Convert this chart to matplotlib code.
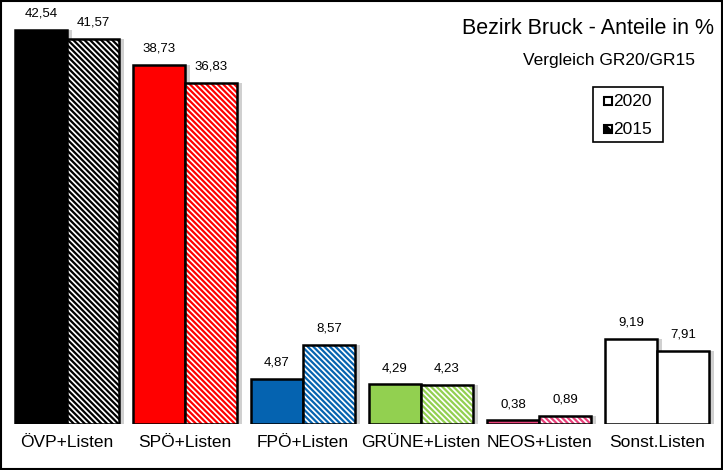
import numpy as np
import matplotlib.pyplot as plt
from matplotlib.patches import Rectangle

# -----------------------------
# Data
# -----------------------------
parties = ["ÖVP+Listen", "SPÖ+Listen", "FPÖ+Listen", "GRÜNE+Listen", "NEOS+Listen", "Sonst.Listen"]
share_2020 = [42.54, 38.73, 4.87, 4.29, 0.38, 9.19]
share_2015 = [41.57, 36.83, 8.57, 4.23, 0.89, 7.91]
labels_2020 = ["42,54", "38,73", "4,87", "4,29", "0,38", "9,19"]
labels_2015 = ["41,57", "36,83", "8,57", "4,23", "0,89", "7,91"]
colors = ["#000000", "#FF0000", "#0563B0", "#92D050", "#E8417A", "#FFFFFF"]

plt.rcParams["font.family"] = ["Liberation Sans", "DejaVu Sans"]
plt.rcParams["hatch.linewidth"] = 1.6

fig = plt.figure(figsize=(7.23, 4.70), dpi=100)
fig.patch.set_facecolor("white")
fig.add_artist(Rectangle((0.002, 0.002), 0.996, 0.996, transform=fig.transFigure,
                         fill=False, edgecolor="black", linewidth=1.5))

ax = fig.add_axes([8 / 723, (470 - 424) / 470, 708 / 723, 417 / 470])
x = np.arange(len(parties))
w = 0.44

# soft shadow
ax.bar(x - w / 2 + 0.04, share_2020, w, color="#d0d0d0", zorder=1, linewidth=0)
ax.bar(x + w / 2 + 0.04, share_2015, w, color="#d0d0d0", zorder=1, linewidth=0)

ax.bar(x - w / 2, share_2020, w, color=colors, edgecolor="black", linewidth=1.8, zorder=3)
for i, v in enumerate(share_2015):
    ax.bar(x[i] + w / 2, v, w, color="white", edgecolor=colors[i], hatch="\\" * 6, linewidth=0, zorder=3)
    ax.bar(x[i] + w / 2, v, w, fill=False, edgecolor="black", linewidth=1.8, zorder=4)

label_font = dict(fontsize=9.5, family=["Liberation Sans Narrow", "Liberation Sans", "DejaVu Sans"])
for i in range(len(parties)):
    ax.text(x[i] - w / 2, share_2020[i] + 1.1, labels_2020[i], ha="center", va="bottom", **label_font)
    ax.text(x[i] + w / 2, share_2015[i] + 1.1, labels_2015[i], ha="center", va="bottom", **label_font)

ax.set_xlim(-0.5, len(parties) - 0.5)
ax.set_ylim(0, 45)
ax.set_xticks(x)
ax.set_xticklabels(parties, fontsize=12.5)
ax.tick_params(axis="x", length=0, pad=8)
ax.set_yticks([])
for s in ax.spines.values():
    s.set_visible(False)

fig.text(714 / 723, 1 - 29 / 470, "Bezirk Bruck - Anteile in %", ha="right", va="center", fontsize=15.5)
fig.text(695 / 723, 1 - 61 / 470, "Vergleich GR20/GR15", ha="right", va="center", fontsize=12.5)

# legend box
fig.add_artist(Rectangle((593 / 723, 1 - 142 / 470), 70 / 723, 55 / 470, transform=fig.transFigure,
                         fill=False, edgecolor="black", linewidth=1.2))
fig.add_artist(Rectangle((604 / 723, 1 - 105 / 470), 8 / 723, 8 / 470, transform=fig.transFigure,
                         facecolor="white", edgecolor="black", linewidth=1.5))
fig.add_artist(Rectangle((604 / 723, 1 - 133 / 470), 8 / 723, 8 / 470, transform=fig.transFigure,
                         facecolor="black", edgecolor="white", hatch="\\\\", linewidth=0.1))
fig.add_artist(Rectangle((604 / 723, 1 - 133 / 470), 8 / 723, 8 / 470, transform=fig.transFigure,
                         fill=False, edgecolor="black", linewidth=1.5))
fig.text(613 / 723, 1 - 101 / 470, "2020", ha="left", va="center", fontsize=12.5)
fig.text(613 / 723, 1 - 129 / 470, "2015", ha="left", va="center", fontsize=12.5)

fig.savefig("out.png", dpi=100)
